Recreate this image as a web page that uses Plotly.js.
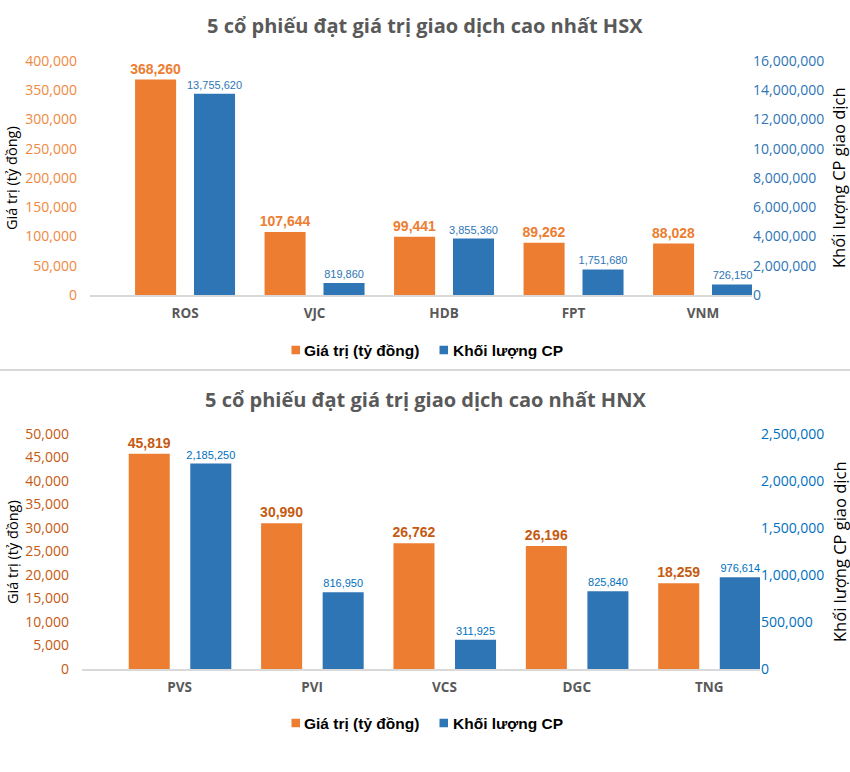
<!DOCTYPE html>
<html>
<head>
<meta charset="utf-8">
<script src="https://cdn.plot.ly/plotly-3.0.1.min.js"></script>
<style>html,body{margin:0;padding:0;background:#fff;}#chart{width:850px;height:772px;}</style>
</head>
<body>
<div id="chart"></div>
<script>
// ---- data ----
const hsxCodes = ['ROS', 'VJC', 'HDB', 'FPT', 'VNM'];
const hsxValue = [368260, 107644, 99441, 89262, 88028];
const hsxVolume = [13755620, 819860, 3855360, 1751680, 726150];

const hnxCodes = ['PVS', 'PVI', 'VCS', 'DGC', 'TNG'];
const hnxValue = [45819, 30990, 26762, 26196, 18259];
const hnxVolume = [2185250, 816950, 311925, 825840, 976614];

const nameValue = 'Giá trị (tỷ đồng)';
const nameVolume = 'Khối lượng CP';
const titleHSX = '5 cổ phiếu đạt giá trị giao dịch cao nhất HSX';
const titleHNX = '5 cổ phiếu đạt giá trị giao dịch cao nhất HNX';
const yLeftTitle = 'Giá trị (tỷ đồng)';
const yRightTitle = 'Khối lượng CP giao dịch';

// ---- styles ----
const ORANGE = '#ED7D31';
const BLUE = '#2E75B6';
const W = 850, H = 772;
const px = v => v / W;
const py = v => 1 - v / H;
const labelFont = '"Liberation Sans Narrow", "Arial Narrow", "Liberation Sans", Arial, sans-serif';
const sans = '"Open Sans", "Noto Sans", sans-serif';
const arial = '"Liberation Sans", Arial, sans-serif';

function valueBar(x, y, xa, ya, offset, width, labelColor) {
  return {
    type: 'bar', x: x, y: y, xaxis: xa, yaxis: ya, name: nameValue, showlegend: false,
    marker: {color: ORANGE}, offset: offset, width: width,
    text: y.map(v => v.toLocaleString('en-US')), textposition: 'outside',
    textangle: 0, constraintext: 'none', cliponaxis: false,
    outsidetextfont: {family: labelFont, size: 14, color: labelColor, weight: 'bold'},
    hoverinfo: 'x+y'
  };
}
function volumeBar(x, y, xa, ya, offset, width, labelColor) {
  return {
    type: 'bar', x: x, y: y, xaxis: xa, yaxis: ya, name: nameVolume, showlegend: false,
    marker: {color: BLUE}, offset: offset, width: width,
    text: y.map(v => v.toLocaleString('en-US')), textposition: 'outside',
    textangle: 0, constraintext: 'none', cliponaxis: false,
    outsidetextfont: {family: labelFont, size: 11, color: labelColor},
    hoverinfo: 'x+y'
  };
}

const traces = [
  valueBar(hsxCodes, hsxValue, 'x', 'y', -0.386, 0.317, ORANGE),
  volumeBar(hsxCodes, hsxVolume, 'x', 'y2', 0.069, 0.317, BLUE),
  valueBar(hnxCodes, hnxValue, 'x2', 'y3', -0.385, 0.31, '#C55A11'),
  volumeBar(hnxCodes, hnxVolume, 'x2', 'y4', 0.08, 0.31, '#0070C0')
];

const xCommon = {
  type: 'category', showline: true, linecolor: '#D9D9D9', linewidth: 1.5,
  showgrid: false, zeroline: false, ticks: '', ticklabelstandoff: 5,
  tickfont: {family: sans, size: 13.5, color: '#595959', weight: 'bold'}, fixedrange: true
};
const yCommon = {
  showgrid: false, zeroline: false, showline: false, ticks: '',
  tickformat: ',d', fixedrange: true
};

// custom legend (square + label) for each chart
function legendItems(yc) {
  const sq = 8.5;
  const shapes = [
    {type: 'rect', xref: 'paper', yref: 'paper', x0: px(291.5), x1: px(291.5 + sq), y0: py(yc + sq / 2), y1: py(yc - sq / 2),
     line: {width: 0}, fillcolor: ORANGE},
    {type: 'rect', xref: 'paper', yref: 'paper', x0: px(439.5), x1: px(439.5 + sq), y0: py(yc + sq / 2), y1: py(yc - sq / 2),
     line: {width: 0}, fillcolor: BLUE}
  ];
  const ann = [
    {text: nameValue, xref: 'paper', yref: 'paper', x: px(302), y: py(yc), xanchor: 'left', yanchor: 'middle',
     showarrow: false, font: {family: arial, size: 15.5, color: '#000', weight: 'bold'}},
    {text: nameVolume, xref: 'paper', yref: 'paper', x: px(451), y: py(yc), xanchor: 'left', yanchor: 'middle',
     showarrow: false, font: {family: arial, size: 15.5, color: '#000', weight: 'bold'}}
  ];
  return {shapes, ann};
}
const legTop = legendItems(350);
const legBot = legendItems(723);

function vTitle(text, x, y, size) {
  return {text: text, xref: 'paper', yref: 'paper', x: px(x), y: py(y), xanchor: 'center', yanchor: 'middle',
    textangle: -90, showarrow: false, font: {family: sans, size: size, color: '#000'}};
}

const layout = {
  width: W, height: H, paper_bgcolor: '#fff', plot_bgcolor: 'rgba(0,0,0,0)',
  margin: {l: 0, r: 0, t: 0, b: 0},
  barmode: 'group', showlegend: false,
  font: {family: sans, color: '#000'},
  xaxis: Object.assign({}, xCommon, {domain: [px(90), px(752)], range: [-0.734, 4.378], anchor: 'y'}),
  yaxis: Object.assign({}, yCommon, {domain: [py(295), py(61)], range: [0, 400000], dtick: 50000,
    anchor: 'x', ticklabelstandoff: 12, tickfont: {family: sans, size: 14, color: '#F0883E'}}),
  yaxis2: Object.assign({}, yCommon, {overlaying: 'y', side: 'right', anchor: 'x', range: [0, 16000000], dtick: 2000000,
    ticklabelstandoff: 0, tickfont: {family: sans, size: 14, color: BLUE}}),
  xaxis2: Object.assign({}, xCommon, {domain: [px(82), px(760)], range: [-0.738, 4.384], anchor: 'y3'}),
  yaxis3: Object.assign({}, yCommon, {domain: [py(669), py(434)], range: [0, 50000], dtick: 5000,
    anchor: 'x2', ticklabelstandoff: 12, tickfont: {family: sans, size: 14, color: '#C55A11'}}),
  yaxis4: Object.assign({}, yCommon, {overlaying: 'y3', side: 'right', anchor: 'x2', range: [0, 2500000], dtick: 500000,
    ticklabelstandoff: 0, tickfont: {family: sans, size: 14, color: '#0070C0'}}),
  shapes: [
    {type: 'line', xref: 'paper', yref: 'paper', x0: 0, x1: 1, y0: py(370), y1: py(370),
     line: {color: '#D9D9D9', width: 2}}
  ].concat(legTop.shapes, legBot.shapes),
  annotations: [
    {text: titleHSX, xref: 'paper', yref: 'paper', x: px(425), y: py(25), xanchor: 'center', yanchor: 'middle', showarrow: false,
     font: {family: sans, size: 20, color: '#595959', weight: 'bold'}},
    {text: titleHNX, xref: 'paper', yref: 'paper', x: px(425), y: py(400), xanchor: 'center', yanchor: 'middle', showarrow: false,
     font: {family: sans, size: 20, color: '#595959', weight: 'bold'}},
    vTitle(yLeftTitle, 12, 178, 14.5),
    vTitle(yRightTitle, 839, 178, 16.5),
    vTitle(yLeftTitle, 12, 552, 14.5),
    vTitle(yRightTitle, 839, 552, 16.5)
  ].concat(legTop.ann, legBot.ann)
};

Plotly.newPlot('chart', traces, layout, {displayModeBar: false, staticPlot: true});
</script>
</body>
</html>
